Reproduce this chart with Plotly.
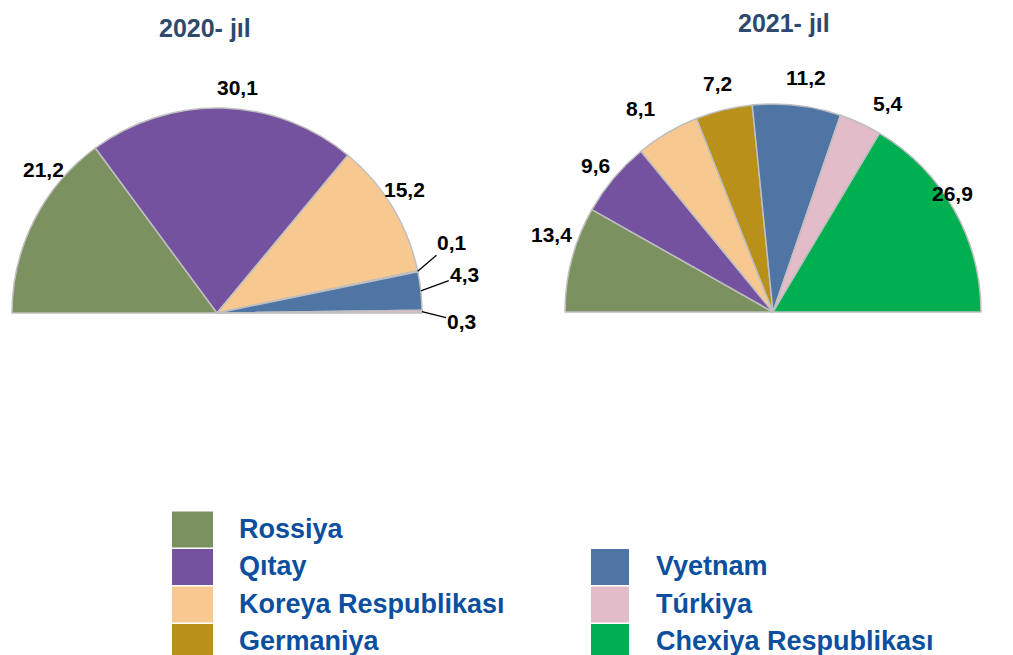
import math
import plotly.graph_objects as go

# ---------------- data ----------------
countries = ["Rossiya", "Qıtay", "Koreya Respublikası", "Germaniya",
             "Vyetnam", "Túrkiya", "Chexiya Respublikası"]
country_colors = ["#7B9160", "#7452A0", "#F8C891", "#B8901A",
                  "#4F75A5", "#E3BCC9", "#00AF50"]

labels_2020 = ["Rossiya", "Qıtay", "Koreya Respublikası", "Germaniya", "Vyetnam", "Túrkiya"]
values_2020 = [21.2, 30.1, 15.2, 0.1, 4.3, 0.3]

labels_2021 = ["Rossiya", "Qıtay", "Koreya Respublikası", "Germaniya", "Vyetnam", "Túrkiya",
               "Chexiya Respublikası"]
values_2021 = [13.4, 9.6, 8.1, 7.2, 11.2, 5.4, 26.9]

titles = ["2020- jıl", "2021- jıl"]

# legend columns
legend_left = ["Rossiya", "Qıtay", "Koreya Respublikası", "Germaniya"]
legend_right = ["Vyetnam", "Túrkiya", "Chexiya Respublikası"]

# ---------------- layout settings ----------------
W, H = 1013, 655
FONT = "Liberation Sans, Arial, sans-serif"
color_of = dict(zip(countries, country_colors))

# pie geometry in pixels: centre x, centre y, radius
geom = [(217, 313, 205), (773, 312, 208)]
label_gap = 20
# small per-label nudges (px) to mimic the reference's label placement
label_nudges = [
    [(27, -42), (14, -1), (-5, -7), None, None, None],
    [(-1, -19), (-3, 0), (-16, -7), (-2, -7), (7, -8), (19, -2), (-19, -6)],
]
# leader-line offsets (px) for labels of thin slices in the 2020 chart
leader_offsets = {3: (34, -29), 4: (44, -16), 5: (40, 10)}

fig = go.Figure()
annotations = []
shapes = []


def fmt(v):
    return f"{v:.1f}".replace(".", ",")


def px_to_paper(x, y):
    return x / W, 1 - y / H


label_font = dict(family=FONT, size=21, color="black", weight="bold")

for k, (labels, values) in enumerate([(labels_2020, values_2020), (labels_2021, values_2021)]):
    cx, cy, R = geom[k]
    total = sum(values)
    # hidden lower half so that visible slices fill a semicircle
    all_labels = labels + ["_hidden"]
    all_values = values + [total]
    cols = [color_of[l] for l in labels] + ["rgba(0,0,0,0)"]
    lcols = ["#BFBFBF"] * len(labels) + ["rgba(0,0,0,0)"]
    lw = [1.5] * len(labels) + [0]
    fig.add_trace(go.Pie(
        labels=all_labels, values=all_values, sort=False,
        direction="clockwise", rotation=-90,
        marker=dict(colors=cols, line=dict(color=lcols, width=lw)),
        textinfo="none", hoverinfo="skip", showlegend=False,
        domain=dict(x=[(cx - R) / W, (cx + R) / W],
                    y=[1 - (cy + R) / H, 1 - (cy - R) / H]),
    ))

    # value labels
    cum = 0.0
    for i, v in enumerate(values):
        theta = math.radians(180 - (cum + v / 2) / total * 180)
        cum += v
        c, s = math.cos(theta), math.sin(theta)
        if k == 0 and i in leader_offsets:
            ax, ay = leader_offsets[i]
            x, y = px_to_paper(cx + R * c, cy - R * s)
            annotations.append(dict(
                x=x, y=y, xref="paper", yref="paper", text=fmt(v),
                showarrow=True, arrowhead=0, arrowwidth=1.3, arrowcolor="black",
                ax=ax, ay=ay, standoff=0, font=label_font))
            continue
        d = R + label_gap
        ndx, ndy = label_nudges[k][i] or (0, 0)
        x, y = px_to_paper(cx + d * c + ndx, cy - d * s + ndy)
        annotations.append(dict(
            x=x, y=y, xref="paper", yref="paper", text=fmt(v), showarrow=False,
            xanchor="center", yanchor="middle", font=label_font))

# titles
title_pos = [(205, 28), (784, 23)]
for t, (tx, ty) in zip(titles, title_pos):
    x, y = px_to_paper(tx, ty)
    annotations.append(dict(x=x, y=y, xref="paper", yref="paper", text=t, showarrow=False,
                            xanchor="center", yanchor="middle",
                            font=dict(family=FONT, size=25, color="#2D4A6D", weight="bold")))

# custom legend
row_h = 37.5
sq_h = 36
sq_w = [41, 38]
col_x = [172, 591]
text_x = [237, 654]
row_top0 = 511.5
n_rows = max(len(legend_left), len(legend_right))
for ci, items in enumerate([legend_left, legend_right]):
    start = n_rows - len(items) if ci == 1 else 0
    for j, name in enumerate(items):
        top = row_top0 + (start + j) * row_h
        x0, y1 = px_to_paper(col_x[ci], top)
        x1, y0 = px_to_paper(col_x[ci] + sq_w[ci], top + sq_h)
        shapes.append(dict(type="rect", xref="paper", yref="paper",
                           x0=x0, x1=x1, y0=y0, y1=y1,
                           fillcolor=color_of[name], line=dict(width=0)))
        tx, ty = px_to_paper(text_x[ci], top + sq_h / 2 - 1)
        annotations.append(dict(x=tx, y=ty, xref="paper", yref="paper", text=name,
                                showarrow=False, xanchor="left", yanchor="middle",
                                font=dict(family=FONT, size=27, color="#0B4F9E",
                                          weight="bold")))

fig.update_layout(
    width=W, height=H, margin=dict(l=0, r=0, t=0, b=0),
    paper_bgcolor="white", plot_bgcolor="white",
    annotations=annotations, shapes=shapes, showlegend=False,
)

fig.write_html("out.html",
               config={"displayModeBar": False},
               post_script="document.body.style.margin='0px';"
                           "document.body.style.overflow='hidden';")
